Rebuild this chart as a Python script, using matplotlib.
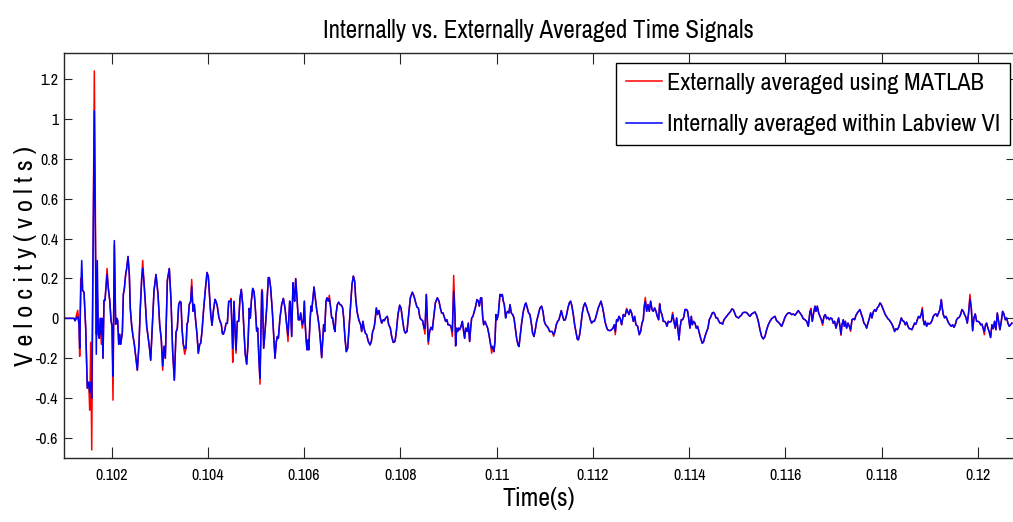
import numpy as np
import matplotlib
matplotlib.use("Agg")
import matplotlib.pyplot as plt
from matplotlib.ticker import FuncFormatter, FixedLocator

plt.rcParams['font.family'] = ['Archivo Narrow', 'Liberation Sans', 'DejaVu Sans']

# ---------------- data (time in s, velocity in volts) ----------------
tA = [0.101013, 0.101221, 0.101242, 0.101298, 0.101325, 0.101339, 0.10136, 0.101381, 0.101402, 0.101429,
      0.101464, 0.101497, 0.101526, 0.101547, 0.101568, 0.101589, 0.101643, 0.101684, 0.101705, 0.101726,
      0.101747, 0.101767, 0.101788, 0.101803, 0.101823, 0.101844, 0.101865, 0.10188, 0.101907, 0.101934,
      0.101963, 0.10199, 0.10201, 0.102031, 0.102059, 0.102086, 0.102107, 0.102128, 0.10215, 0.10217,
      0.102191, 0.102225, 0.102246, 0.102267, 0.102294, 0.102315, 0.102343, 0.10237, 0.10239, 0.10242,
      0.102447, 0.102474, 0.102502, 0.102536, 0.102571, 0.102598, 0.102627, 0.102648, 0.102675, 0.102702,
      0.102731, 0.102758, 0.102785, 0.102814, 0.102848, 0.102883, 0.102924, 0.102966, 0.103001, 0.103035]
vA = [0.0, 0.0, -0.012, 0.01, -0.03, -0.15, 0.12, 0.29, 0.14, 0.13,
      -0.05, -0.35, -0.32, -0.37, -0.32, -0.40, 1.04, -0.18, 0.29, -0.08,
      -0.10, 0.0, -0.08, 0.0, -0.20, 0.09, 0.09, 0.14, 0.22, 0.15,
      0.09, -0.01, -0.04, -0.29, 0.39, -0.03, 0.0, -0.01, -0.13, -0.08,
      -0.13, -0.07, 0.12, 0.15, 0.22, 0.25, 0.31, 0.22, 0.05, -0.04,
      -0.09, -0.13, -0.19, -0.26, -0.13, 0.05, 0.20, 0.25, 0.18, 0.08,
      -0.04, -0.09, -0.14, -0.21, -0.04, 0.14, 0.22, 0.12, -0.03, -0.11]

tB = [0.103063, 0.103091, 0.103118, 0.10316, 0.103201, 0.103236, 0.103271, 0.103305, 0.10334, 0.103367,
      0.103396, 0.103423, 0.103444, 0.103464, 0.103491, 0.10352, 0.103548, 0.103568, 0.103589, 0.103616,
      0.103645, 0.103666, 0.103693, 0.10372, 0.103749, 0.103776, 0.103803, 0.103832, 0.103853, 0.10388,
      0.103915, 0.103948, 0.103984, 0.104011, 0.10404, 0.104061, 0.104088, 0.104115, 0.10415, 0.104171,
      0.104198, 0.104227, 0.104254, 0.104281, 0.104302, 0.104323, 0.104352, 0.104379, 0.104406, 0.104435,
      0.104462, 0.104482, 0.104503, 0.104518, 0.104545, 0.104565, 0.104586, 0.104613, 0.104642, 0.104669,
      0.104696, 0.104725, 0.104752, 0.104779, 0.104808, 0.104835, 0.104862, 0.104883, 0.104904, 0.104933,
      0.10496]
vB = [-0.24, -0.14, -0.20, 0.19, 0.25, 0.09, -0.17, -0.31, -0.07, -0.05,
      0.07, 0.085, 0.08, -0.05, -0.13, -0.15, -0.15, -0.03, -0.015, 0.07,
      0.085, 0.16, 0.035, 0.07, -0.015, -0.08, -0.175, -0.13, -0.125, -0.065,
      0.05, 0.14, 0.23, 0.21, 0.10, 0.02, -0.035, 0.035, 0.095, 0.085,
      0.06, 0.01, -0.015, -0.03, -0.075, -0.08, -0.06, -0.025, -0.025, 0.085,
      0.085, 0.09, -0.05, -0.15, 0.085, -0.05, -0.16, -0.015, -0.015, 0.10,
      0.145, 0.07, -0.065, -0.18, -0.23, -0.13, 0.05, 0.0, 0.085, 0.15,
      0.135]

tC = [0.104981, 0.105016, 0.105036, 0.105064, 0.105085, 0.10512, 0.105133, 0.105161, 0.105189, 0.105223,
      0.105258, 0.105279, 0.105306, 0.105341, 0.105369, 0.105396, 0.105424, 0.105445, 0.105466, 0.1055,
      0.105535, 0.10557, 0.105604, 0.105639, 0.105666, 0.105701, 0.105715, 0.105743, 0.10577, 0.105791,
      0.105805, 0.105826, 0.105853, 0.105881, 0.105909, 0.10593, 0.10595, 0.105964, 0.105985, 0.106006,
      0.10602, 0.106041, 0.106061, 0.106082, 0.106096, 0.106124, 0.106144, 0.106158, 0.106186, 0.106207,
      0.106234, 0.106262, 0.10629, 0.106317, 0.106338, 0.106366, 0.106393, 0.106407, 0.106428, 0.106456,
      0.106477, 0.106504, 0.106525, 0.106553, 0.106574, 0.106594, 0.106622, 0.106643, 0.106663, 0.106691,
      0.106719, 0.106747, 0.106774, 0.106802, 0.106823, 0.10685, 0.106878, 0.106906, 0.106934, 0.106968,
      0.106996, 0.107024, 0.107051, 0.107072, 0.1071, 0.107128, 0.107148, 0.107176, 0.107197, 0.107224,
      0.107245, 0.107273, 0.107301, 0.107335, 0.10737, 0.107397, 0.107425, 0.107453]
vC = [0.077, -0.065, -0.049, -0.217, -0.30, 0.13, 0.136, -0.15, -0.066, 0.052,
      0.204, 0.204, 0.153, 0.035, -0.081, -0.20, -0.116, -0.091, -0.10, 0.002,
      0.069, 0.10, 0.052, -0.032, -0.084, 0.086, 0.077, -0.091, 0.178, 0.103,
      0.086, 0.199, 0.103, -0.007, -0.007, 0.027, -0.015, -0.03, -0.015, 0.086,
      -0.015, -0.10, -0.158, -0.108, -0.158, -0.015, 0.061, 0.035, 0.103, 0.157,
      0.103, 0.044, 0.002, -0.049, -0.108, -0.197, -0.082, -0.032, -0.066, 0.086,
      0.103, 0.086, 0.10, 0.052, 0.002, 0.002, -0.049, -0.066, 0.019, 0.069,
      0.081, 0.069, 0.066, 0.052, 0.002, -0.10, -0.167, -0.15, -0.049, 0.069,
      0.17, 0.212, 0.187, 0.103, 0.035, 0.002, -0.015, -0.032, -0.066, -0.015,
      -0.049, -0.074, -0.082, -0.116, -0.133, -0.116, -0.066, -0.049]

tD = [0.107474, 0.107501, 0.107529, 0.107557, 0.107584, 0.107612, 0.107647, 0.107668, 0.107695, 0.10773,
      0.107758, 0.107792, 0.10782, 0.107854, 0.107889, 0.107917, 0.107951, 0.107986, 0.108014, 0.108041,
      0.108076, 0.108104, 0.108138, 0.108173, 0.108208, 0.108249, 0.108284, 0.108311, 0.108346, 0.108374,
      0.108408, 0.108436, 0.108464, 0.108491, 0.108512, 0.10854, 0.108561, 0.108581, 0.108609, 0.108637,
      0.108665, 0.108692, 0.108727, 0.108768, 0.108803, 0.108831, 0.108858, 0.108886, 0.108914, 0.108941,
      0.108969, 0.10899, 0.109018, 0.109052, 0.10908, 0.109108, 0.109135, 0.109149, 0.10917, 0.109191,
      0.109211, 0.109232, 0.10926, 0.109288, 0.109315, 0.109336, 0.109357, 0.109385, 0.109412, 0.10944,
      0.109461, 0.109482, 0.109509, 0.109537, 0.109565, 0.109592, 0.10962, 0.109641, 0.109669, 0.109689,
      0.10971, 0.109731, 0.109758, 0.109786, 0.109814, 0.109842, 0.109876, 0.109897, 0.109918, 0.109945]
vD = [-0.015, 0.052, 0.019, 0.039, 0.002, -0.024, -0.007, -0.012, 0.002, 0.01,
      -0.032, -0.049, -0.091, -0.121, -0.116, -0.066, 0.019, 0.066, 0.052, 0.002,
      -0.057, -0.074, -0.066, 0.019, 0.103, 0.131, 0.111, 0.086, 0.056, 0.052,
      0.002, -0.007, -0.012, -0.049, -0.049, 0.12, -0.015, -0.116, -0.066, -0.045,
      -0.057, 0.002, 0.077, 0.103, 0.086, 0.052, 0.027, 0.027, 0.005, -0.015,
      -0.007, -0.032, -0.032, -0.04, -0.066, 0.136, 0.019, -0.138, -0.049, -0.066,
      -0.049, -0.057, -0.04, -0.015, -0.066, -0.1, -0.049, -0.066, -0.024, -0.116,
      -0.049, 0.002, 0.01, 0.035, 0.061, 0.094, 0.086, 0.061, 0.103, 0.103,
      0.01, -0.032, -0.015, -0.032, -0.049, -0.082, -0.133, -0.15, -0.141, -0.167]

tE = [0.109966, 0.109987, 0.110008, 0.110035, 0.11007, 0.110098, 0.110118, 0.110139, 0.11016, 0.110188,
      0.110208, 0.110229, 0.110257, 0.110278, 0.110305, 0.110333, 0.110361, 0.110388, 0.110416, 0.110444,
      0.110465, 0.110492, 0.11052, 0.110555, 0.11059, 0.11061, 0.110638, 0.110665, 0.110693, 0.110721,
      0.110748, 0.110776, 0.110804, 0.110831, 0.110866, 0.110901, 0.110935, 0.110963, 0.110991, 0.111018,
      0.111046, 0.111074, 0.111102, 0.111129, 0.111157, 0.111185, 0.111212, 0.11124, 0.111268, 0.111295,
      0.111323, 0.111344, 0.111372, 0.111399, 0.111427, 0.111455, 0.111482, 0.11151, 0.111538, 0.111565,
      0.111593, 0.111621, 0.111648, 0.111676, 0.111697, 0.111725, 0.111752, 0.11178, 0.111808, 0.111835,
      0.111863, 0.111891, 0.111918, 0.111946, 0.111974, 0.112002, 0.112029, 0.112057, 0.112085, 0.112112,
      0.11214, 0.112168, 0.112195, 0.112223, 0.112251, 0.112278, 0.112306, 0.112334, 0.112362, 0.112389,
      0.112417, 0.112445, 0.112466, 0.112493, 0.112514, 0.112542]
vE = [-0.116, 0.019, -0.007, 0.019, 0.12, 0.111, 0.12, 0.086, 0.069, 0.002,
      0.027, 0.035, 0.027, 0.069, 0.027, 0.019, 0.002, -0.049, -0.1, -0.133,
      -0.141, -0.082, -0.024, 0.035, 0.069, 0.077, 0.052, 0.027, 0.019, -0.024,
      -0.074, -0.091, -0.057, -0.015, 0.019, 0.052, 0.061, 0.035, -0.015, -0.032,
      -0.04, -0.049, -0.066, -0.066, -0.066, -0.082, -0.066, -0.032, -0.015, -0.007,
      0.019, 0.039, 0.01, -0.01, -0.007, 0.019, 0.052, 0.077, 0.086, 0.061,
      0.019, -0.032, -0.066, -0.104, -0.108, -0.082, -0.032, 0.027, 0.061, 0.077,
      0.061, 0.035, 0.019, -0.007, -0.024, -0.015, -0.015, 0.002, 0.027, 0.052,
      0.069, 0.086, 0.061, 0.027, -0.015, -0.04, -0.057, -0.061, -0.061, -0.057,
      -0.049, -0.032, -0.066, -0.007, -0.015, 0.01]

tF = [0.112563, 0.112597, 0.112632, 0.112667, 0.112701, 0.112722, 0.11275, 0.112777, 0.112805, 0.11284,
      0.112867, 0.112895, 0.11293, 0.112964, 0.112992, 0.11302, 0.113047, 0.113068, 0.113089, 0.113117,
      0.113144, 0.113172, 0.1132, 0.113228, 0.113255, 0.113283, 0.113311, 0.113338, 0.113366, 0.113387,
      0.113408, 0.113435, 0.113463, 0.113491, 0.113518, 0.113539, 0.113567, 0.113602, 0.113629, 0.113657,
      0.113685, 0.113712, 0.11374, 0.113768, 0.113789, 0.113809, 0.113837, 0.113865, 0.113892, 0.113913,
      0.113948, 0.113968, 0.113989, 0.114017, 0.114045, 0.114065, 0.114093, 0.114121, 0.114148, 0.114176,
      0.114204, 0.114239, 0.114273, 0.114301, 0.114328, 0.114363, 0.114391, 0.114418, 0.114453, 0.114481,
      0.114508, 0.114536, 0.114557, 0.114585, 0.114612, 0.11464, 0.114668, 0.114695, 0.114723, 0.114751,
      0.114778, 0.114806, 0.114834, 0.114862, 0.114889, 0.114917, 0.114945, 0.114972, 0.115, 0.115028,
      0.115055, 0.115083, 0.115111, 0.115138, 0.115166, 0.115194, 0.115228]
vF = [0.002, -0.032, 0.019, 0.01, 0.044, 0.035, 0.019, 0.044, 0.027, -0.015,
      0.01, -0.032, -0.04, -0.082, -0.066, -0.024, -0.007, 0.061, 0.085, 0.035,
      0.069, 0.035, 0.086, 0.044, 0.035, 0.052, 0.035, 0.01, -0.007, 0.069,
      0.035, 0.019, -0.015, -0.015, -0.024, -0.04, -0.015, -0.019, -0.015, 0.019,
      -0.015, -0.049, 0.002, -0.057, -0.108, -0.049, -0.007, -0.007, 0.01, 0.044,
      0.044, 0.035, 0.002, -0.049, 0.01, -0.032, -0.015, -0.024, -0.049, -0.04,
      -0.066, -0.1, -0.125, -0.116, -0.091, -0.066, -0.049, -0.007, 0.01, 0.027,
      0.03, 0.019, 0.002, 0.002, -0.012, -0.024, -0.024, -0.029, -0.007, 0.002,
      0.01, 0.019, 0.027, 0.035, 0.047, 0.044, 0.027, 0.01, 0.005, 0.002,
      0.01, 0.015, 0.027, 0.03, 0.03, 0.029, 0.019]

tG = [0.115263, 0.115298, 0.115333, 0.115367, 0.115402, 0.115437, 0.115471, 0.115506, 0.11554, 0.115575,
      0.11561, 0.115644, 0.115679, 0.115713, 0.115748, 0.115783, 0.115817, 0.115852, 0.115887, 0.115921,
      0.115956, 0.11599, 0.116025, 0.11606, 0.116094, 0.116129, 0.116164, 0.116198, 0.116233, 0.116267,
      0.116302, 0.116337, 0.116371, 0.116406, 0.116441, 0.116475, 0.11651, 0.116531, 0.116558, 0.116586,
      0.116614, 0.116634, 0.116662, 0.11669, 0.116717, 0.116745, 0.116773, 0.116801, 0.116828, 0.116856,
      0.116884, 0.116911, 0.116939, 0.116967, 0.116994, 0.117022, 0.11705, 0.117077, 0.117105, 0.117133,
      0.117154, 0.117175, 0.117202, 0.117223, 0.117244, 0.117271, 0.117299, 0.117327, 0.117354, 0.117382,
      0.11741, 0.117437, 0.117465, 0.117493, 0.11752, 0.117548, 0.117576, 0.117604, 0.117631, 0.117659,
      0.117687, 0.117714, 0.117742, 0.11777, 0.117797, 0.117825, 0.117853, 0.11788, 0.117908, 0.117936,
      0.117964, 0.117991, 0.118019, 0.118047, 0.118074, 0.118102, 0.11813, 0.118157, 0.118185, 0.118213,
      0.11824, 0.118268, 0.118296, 0.118323, 0.118351, 0.118379, 0.118407, 0.118434, 0.118462, 0.11849,
      0.118517, 0.118545, 0.118573, 0.1186, 0.118628, 0.118656, 0.118683, 0.118711, 0.118739, 0.118767,
      0.118794, 0.118822, 0.118843, 0.118863, 0.118884, 0.118905, 0.118933, 0.11896, 0.118988, 0.119016,
      0.119044, 0.119071, 0.119099, 0.119127, 0.119154, 0.119182, 0.11921, 0.119238, 0.119258, 0.119279,
      0.119307, 0.119335, 0.119362, 0.11939, 0.119418, 0.119445, 0.119473, 0.119501, 0.119528, 0.119556,
      0.119584, 0.119611, 0.119639, 0.119667, 0.119695, 0.119722, 0.11975, 0.119778, 0.119805, 0.119833,
      0.119861, 0.119889, 0.119916, 0.119944, 0.119972, 0.119999, 0.120027, 0.120055, 0.120082, 0.12011,
      0.120131, 0.120158, 0.120179, 0.120207, 0.120235, 0.120262, 0.12029, 0.120318, 0.120345, 0.120373,
      0.120401, 0.120428, 0.120456, 0.120484, 0.120512, 0.120539, 0.120567, 0.120595, 0.120622, 0.12065,
      0.120678, 0.120706]
vG = [0.01, 0.022, 0.027, 0.032, 0.015, -0.015, -0.057, -0.091, -0.103, -0.091,
      -0.057, -0.032, -0.015, -0.002, 0.005, 0.01, -0.012, -0.019, -0.029, -0.04,
      -0.019, 0.005, 0.019, 0.027, 0.027, 0.019, 0.022, 0.015, 0.027, 0.039,
      0.027, 0.015, -0.002, -0.007, -0.015, -0.04, 0.035, 0.04, -0.015, 0.027,
      0.061, 0.035, 0.061, 0.027, 0.01, -0.007, -0.024, 0.01, 0.019, -0.002,
      0.005, -0.007, 0.002, -0.002, -0.024, -0.015, -0.049, -0.024, 0.002, -0.04,
      -0.079, -0.032, -0.007, -0.04, -0.015, -0.049, -0.024, -0.04, -0.057, -0.007,
      -0.002, -0.007, 0.015, 0.027, 0.035, 0.044, 0.022, 0.002, -0.024, -0.032,
      -0.049, -0.024, -0.002, 0.027, 0.002, 0.032, 0.044, 0.035, 0.052, 0.061,
      0.077, 0.069, 0.052, 0.035, 0.019, 0.008, -0.002, -0.008, -0.019, -0.029,
      -0.045, -0.066, -0.052, -0.057, -0.045, -0.024, 0.002, -0.012, -0.015, -0.032,
      -0.019, -0.04, -0.052, -0.052, -0.057, -0.04, -0.024, -0.029, -0.008, 0.01,
      0.002, 0.022, 0.044, -0.007, -0.032, -0.015, -0.04, -0.024, -0.029, -0.024,
      -0.012, 0.01, 0.019, 0.022, 0.01, 0.027, 0.044, 0.094, 0.052, 0.019,
      0.002, 0.01, -0.007, -0.024, -0.032, -0.04, -0.032, -0.045, -0.032, -0.007,
      0.002, 0.005, 0.019, 0.044, 0.035, 0.019, 0.005, -0.024, 0.027, 0.094,
      0.052, -0.062, 0.002, 0.022, -0.015, -0.015, -0.019, -0.032, -0.029, -0.052,
      -0.065, -0.032, -0.024, -0.049, -0.069, -0.096, -0.032, -0.052, -0.015, -0.057,
      0.027, -0.015, -0.057, -0.015, 0.035, 0.022, -0.007, 0.002, -0.024, -0.04,
      -0.032, -0.024]

# places where the externally averaged (red) trace departs from the internal (blue) one
red_t = [0.101298, 0.101339, 0.10136, 0.101381, 0.101547, 0.101568, 0.101589, 0.101643, 0.101684,
         0.101705, 0.101788, 0.101907, 0.102031, 0.102059, 0.102648,
         0.103063, 0.10352, 0.103666, 0.104482, 0.104518, 0.104586,
         0.105085, 0.10512, 0.105666, 0.105964, 0.106525,
         0.108512, 0.108581, 0.10908, 0.109108, 0.109897,
         0.111185, 0.112466, 0.112701, 0.113089, 0.113387, 0.113657,
         0.116531, 0.116773, 0.117154, 0.117354, 0.118843, 0.119833, 0.120131]
red_v = [0.04, -0.19, 0.20, 0.14, -0.46, -0.12, -0.66, 1.24, -0.08,
         0.12, -0.13, 0.25, -0.41, 0.37, 0.29,
         -0.26, -0.18, 0.195, 0.10, -0.22, -0.175,
         -0.33, 0.145, -0.116, -0.049, 0.116,
         -0.079, -0.13, -0.091, 0.215, -0.175,
         -0.09, -0.082, 0.05, 0.105, 0.075, 0.03,
         0.05, -0.035, -0.085, -0.065, 0.055, 0.12, -0.082]

x_ticks = [0.102, 0.104, 0.106, 0.108, 0.11, 0.112, 0.114, 0.116, 0.118, 0.12]
y_ticks = [-0.6, -0.4, -0.2, 0, 0.2, 0.4, 0.6, 0.8, 1, 1.2]

title = "Internally vs. Externally Averaged Time Signals"
xlabel = "Time(s)"
ylabel = "V e l o c i t y ( v o l t s )"
label_red = "Externally averaged using MATLAB"
label_blue = "Internally averaged within Labview VI"

# ---------------- build series ----------------
segs = [(tA, vA), (tB, vB), (tC, vC), (tD, vD), (tE, vE), (tF, vF), (tG, vG)]
for i, (a, b) in enumerate(segs):
    assert len(a) == len(b), (i, len(a), len(b))
time = np.concatenate([np.asarray(a, float) for a, _ in segs])
blue = np.concatenate([np.asarray(b, float) for _, b in segs])
red = blue.copy()
for t, v in zip(red_t, red_v):
    red[np.argmin(np.abs(time - t))] = v

# ---------------- figure ----------------
W, H = 1013, 522
fig = plt.figure(figsize=(W / 100, H / 100), dpi=100)
left, right, top, bottom = 64, 1013.5, 53, 458
ax = fig.add_axes([left / W, (H - bottom) / H, (right - left) / W, (bottom - top) / H])

ax.plot(time, red, color=(1, 0, 0), lw=1.1, label=label_red)
ax.plot(time, blue, color=(0, 0, 1), lw=1.1, label=label_blue)

ax.set_xlim(0.101013, 0.120738)
ax.set_ylim(-0.70, 1.33)
ax.xaxis.set_major_locator(FixedLocator(x_ticks))
ax.yaxis.set_major_locator(FixedLocator(y_ticks))
fmt = FuncFormatter(lambda v, p: "%g" % round(v, 6))
ax.xaxis.set_major_formatter(fmt)
ax.yaxis.set_major_formatter(fmt)

ax.tick_params(axis='both', direction='in', top=True, right=True, labelsize=11.5,
               width=0.8, color='#262626', labelcolor='black')
ax.tick_params(axis='x', length=8, pad=7)
ax.tick_params(axis='y', length=6, pad=4)
for s in ax.spines.values():
    s.set_linewidth(1.0)
    s.set_color('#262626')

ax.set_title(title, fontsize=18, pad=11)
ax.set_xlabel(xlabel, fontsize=18.5, labelpad=3)
ax.set_ylabel(ylabel, fontsize=19, labelpad=-1)

leg = ax.legend(loc='upper right', bbox_to_anchor=(0.9963, 0.9753), borderaxespad=0,
                fontsize=17.5, fancybox=False, framealpha=1, edgecolor='black',
                handlelength=1.5, handletextpad=0.2, borderpad=0.4, labelspacing=0.85)
leg.get_frame().set_linewidth(1.0)

fig.savefig("out.png", dpi=100)
